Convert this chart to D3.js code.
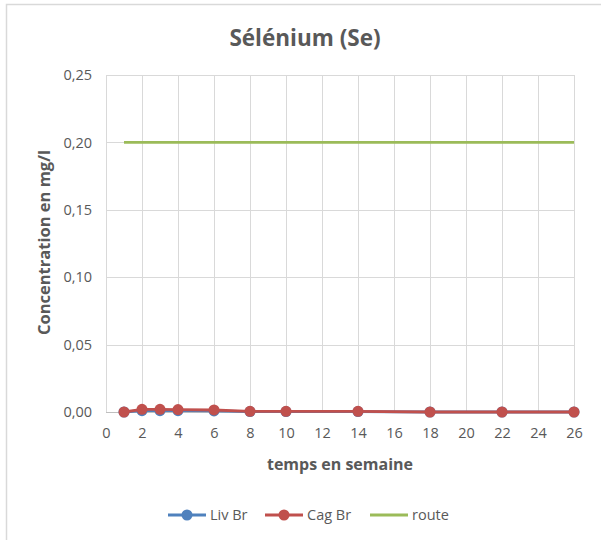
<!DOCTYPE html>
<html>
<head>
<meta charset="utf-8">
<script src="https://cdn.jsdelivr.net/npm/d3@7"></script>
<style>
  body { margin: 0; background: #fff; }
  text { font-family: "Open Sans", "Liberation Sans", sans-serif; fill: #595959; }
</style>
</head>
<body>
<svg id="chart" width="601" height="540"></svg>
<script>
// Semaines de prélèvement et concentrations en sélénium (mg/l)
const weeks = [1, 2, 3, 4, 6, 8, 10, 14, 18, 22, 26];
const livBr = [0, 0.001, 0.001, 0.001, 0.0008, 0.0003, 0.0003, 0.0003, 0, 0, 0];
const cagBr = [0, 0.002, 0.002, 0.0018, 0.0015, 0.0005, 0.0005, 0.0005, 0, 0, 0];
const routeWeeks = [1, 26];
const routeValues = [0.2, 0.2];
const xTicks = [0, 2, 4, 6, 8, 10, 12, 14, 16, 18, 20, 22, 24, 26];
const yTicks = [0, 0.05, 0.10, 0.15, 0.20, 0.25];

const series = [
  { name: "Liv Br", color: "#4F81BD", xs: weeks, ys: livBr, markers: true },
  { name: "Cag Br", color: "#C0504D", xs: weeks, ys: cagBr, markers: true },
  { name: "route", color: "#9BBB59", xs: routeWeeks, ys: routeValues, markers: false }
];

const svg = d3.select("#chart");
const plot = { left: 106, right: 574, top: 75, bottom: 412 };

// Cadre du graphique
svg.append("rect")
  .attr("x", 6.5).attr("y", 4.5)
  .attr("width", 620).attr("height", 560)
  .attr("fill", "none").attr("stroke", "#d9d9d9").attr("stroke-width", 1.5);

const x = d3.scaleLinear().domain([0, 26]).range([plot.left, plot.right]);
const y = d3.scaleLinear().domain([0, 0.25]).range([plot.bottom, plot.top]);
const fmt = v => d3.format(".2f")(v).replace(".", ",");

// Quadrillage
const grid = svg.append("g");
grid.selectAll(".gy").data(yTicks).join("line")
  .attr("x1", plot.left).attr("x2", plot.right)
  .attr("y1", d => Math.round(y(d)) + 0.5).attr("y2", d => Math.round(y(d)) + 0.5)
  .attr("stroke", d => d === 0 ? "#bfbfbf" : "#d9d9d9");
grid.selectAll(".gx").data(xTicks).join("line")
  .attr("x1", d => Math.round(x(d)) + 0.5).attr("x2", d => Math.round(x(d)) + 0.5)
  .attr("y1", plot.top).attr("y2", plot.bottom)
  .attr("stroke", "#d9d9d9");

// Axe Y
const yAxis = svg.append("g")
  .attr("transform", `translate(${plot.left},0)`)
  .call(d3.axisLeft(y).tickValues(yTicks).tickFormat(fmt).tickSize(0).tickPadding(14));
yAxis.select(".domain").remove();
yAxis.selectAll("text").style("font-size", "14.5px").attr("fill", "#595959");

// Axe X
const xAxis = svg.append("g")
  .attr("transform", `translate(0,${plot.bottom})`)
  .call(d3.axisBottom(x).tickValues(xTicks).tickSize(0).tickPadding(16));
xAxis.select(".domain").remove();
xAxis.selectAll("text").style("font-size", "14.5px").attr("fill", "#595959");

// Séries
const line = d3.line().x(d => x(d[0])).y(d => y(d[1]));
series.forEach(s => {
  const pts = s.xs.map((v, i) => [v, s.ys[i]]);
  svg.append("path").datum(pts)
    .attr("d", line).attr("fill", "none")
    .attr("stroke", s.color).attr("stroke-width", 2.8)
    .attr("stroke-linejoin", "round");
  if (s.markers) {
    svg.append("g").selectAll("circle").data(pts).join("circle")
      .attr("cx", d => x(d[0])).attr("cy", d => y(d[1])).attr("r", 5.5)
      .attr("fill", s.color);
  }
});

// Titres
svg.append("text").attr("x", 305).attr("y", 46).attr("text-anchor", "middle")
  .style("font-size", "22.5px").style("font-weight", "bold").text("Sélénium (Se)");
svg.append("text").attr("x", (plot.left + plot.right) / 2).attr("y", 470)
  .attr("text-anchor", "middle").style("font-size", "16px").style("font-weight", "bold")
  .text("temps en semaine");
svg.append("text")
  .attr("transform", `translate(50,${(plot.top + plot.bottom) / 2 - 1}) rotate(-90)`)
  .attr("text-anchor", "middle").style("font-size", "16.5px").style("font-weight", "bold")
  .text("Concentration en mg/l");

// Légende
const legendX = [168, 265, 370];
const leg = svg.append("g").attr("transform", "translate(0,515)");
series.forEach((s, i) => {
  const g = leg.append("g").attr("transform", `translate(${legendX[i]},0)`);
  g.append("line").attr("x1", 0).attr("x2", 38).attr("y1", 0).attr("y2", 0)
    .attr("stroke", s.color).attr("stroke-width", 2.8);
  if (s.markers) g.append("circle").attr("cx", 19).attr("cy", 0).attr("r", 5.5).attr("fill", s.color);
  g.append("text").attr("x", 42).attr("y", 5).style("font-size", "14.5px").text(s.name);
});
</script>
</body>
</html>
